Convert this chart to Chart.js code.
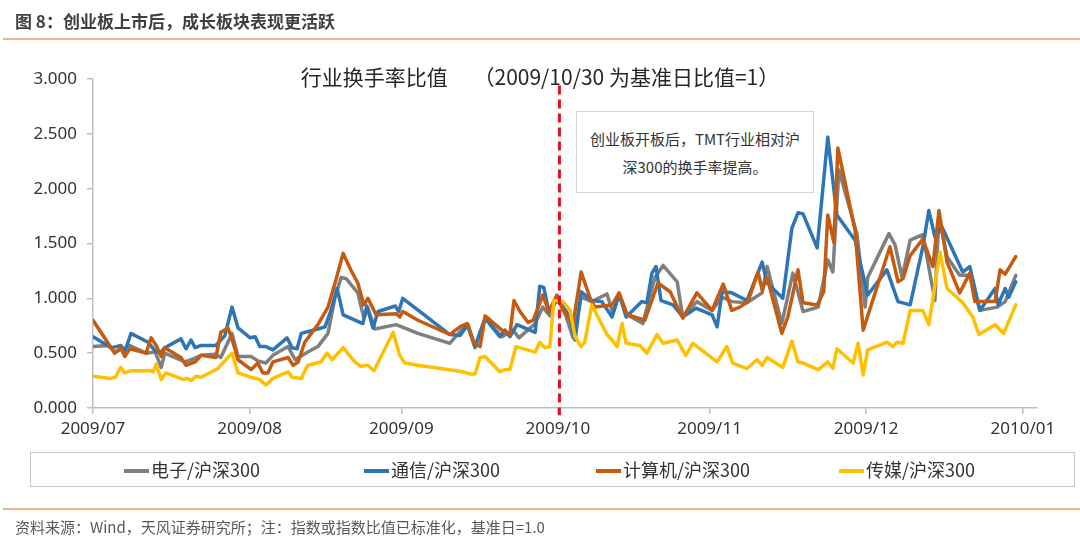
<!doctype html>
<html>
<head>
<meta charset="utf-8">
<title>行业换手率比值</title>
<script src="https://cdn.jsdelivr.net/npm/chart.js@4.4.0/dist/chart.umd.min.js"></script>
<style>
  * { margin: 0; padding: 0; box-sizing: border-box; }
  body { width: 1080px; height: 545px; background: #fff; position: relative; overflow: hidden;
         font-family: 'Noto Sans', 'Noto Sans CJK SC', sans-serif; color: #333; }
  #c { position: absolute; left: 0; top: 0; }
  #hdr { position: absolute; left: 15px; top: 8px; font: bold 17px 'Noto Sans CJK SC', sans-serif; color: #404040; }
  .rule { position: absolute; left: 3px; right: 0; height: 2px; background: #f4b183; }
  #title { position: absolute; left: 0; width: 1080px; top: 61px; text-align: center;
           font: 21px 'Noto Sans CJK SC', sans-serif; color: #262626; white-space: pre; }
  #note { position: absolute; left: 576px; top: 111px; width: 238px; height: 82px; background: #fff;
          border: 1.5px solid #d4d4d4; text-align: center; font: 15px 'Noto Sans CJK SC', sans-serif;
          color: #333; line-height: 28px; padding-top: 13px; }
  #legend { position: absolute; left: 30px; top: 452px; width: 1045px; height: 35px; border: 1.5px solid #c8c8c8; }
  .item { position: absolute; top: 5px; font: 18px 'Noto Sans CJK SC', sans-serif; color: #333; line-height: 22px; }
  .item i { display: inline-block; width: 25px; height: 4px; vertical-align: middle; margin-right: 2px; margin-top: -3px; }
  #src { position: absolute; left: 15px; top: 516px; font: 15px 'Noto Sans CJK SC', sans-serif; color: #595959; }
</style>
</head>
<body>
<canvas id="c" width="1080" height="545"></canvas>
<div id="hdr">图 8：创业板上市后，成长板块表现更活跃</div>
<div class="rule" style="top:38px"></div>
<div id="title">行业换手率比值　 （2009/10/30 为基准日比值=1）</div>
<div id="note">创业板开板后，TMT行业相对沪<br>深300的换手率提高。</div>
<div id="legend"></div>
<div class="rule" style="top:508px"></div>
<div id="src">资料来源：Wind，天风证券研究所；注：指数或指数比值已标准化，基准日=1.0</div>
<script>
// x = days from 2009/07/01, y = turnover ratio
const monthTicks = [0, 31, 61, 92, 122, 153, 184];
const monthLabels = ['2009/07', '2009/08', '2009/09', '2009/10', '2009/11', '2009/12', '2010/01'];
const seriesNames = ['电子/沪深300', '通信/沪深300', '计算机/沪深300', '传媒/沪深300'];
const seriesColors = ['#7f7f7f', '#2e75b6', '#c55a11', '#ffc000'];
const baseDay = 92.3;

const dianzi = [[0,0.56],[3.0,0.57],[4.4,0.51],[7.3,0.57],[10.5,0.50],[12.3,0.51],[13.5,0.37],[14.2,0.50],[18.2,0.42],[19.4,0.44],[21.4,0.48],[24.3,0.49],[25.3,0.46],[27.5,0.68],[28.7,0.47],[31.3,0.47],[32.6,0.43],[34.2,0.41],[35.6,0.48],[38.6,0.56],[40.0,0.44],[42.5,0.51],[44.5,0.56],[46.5,0.68],[47.9,1.01],[49.1,1.19],[50.1,1.18],[52.4,1.05],[53.6,0.82],[54.4,0.91],[55.8,0.72],[60.0,0.76],[64.3,0.68],[70.6,0.59],[74.0,0.77],[75.6,0.55],[77.6,0.82],[80.9,0.65],[83.1,0.71],[84.3,0.64],[87.5,0.77],[89.0,0.92],[90.4,0.84],[91.8,1.01],[93.0,0.92],[95.0,0.64],[96.6,1.01],[98.7,0.97],[101.7,1.04],[102.9,0.86],[104.1,1.04],[105.7,0.85],[108.8,0.77],[111.2,1.19],[112.8,1.30],[115.6,1.15],[116.7,0.83],[119.5,0.97],[122.5,0.89],[124.5,1.01],[126.4,0.97],[129.4,0.96],[132.4,1.05],[133.4,1.29],[136.3,0.77],[138.5,1.23],[140.5,0.88],[143.5,0.92],[145.4,1.35],[146.4,1.24],[147.6,2.17],[151.2,1.58],[152.8,0.92],[153.3,1.19],[157.5,1.59],[158.7,1.49],[160.1,1.19],[161.7,1.53],[164.2,1.58],[166.6,0.98],[167.4,1.74],[169.0,1.38],[171.5,1.21],[173.5,1.21],[175.5,0.89],[178.9,0.92],[180.5,0.97],[182.6,1.21]];

const tongxin = [[0,0.65],[3.6,0.55],[4.6,0.56],[5.5,0.57],[6.3,0.51],[7.5,0.68],[10.9,0.60],[12.3,0.52],[13.3,0.50],[14.2,0.55],[17.4,0.63],[18.4,0.54],[19.4,0.62],[20.2,0.55],[21.4,0.57],[24.3,0.57],[26.1,0.66],[27.5,0.92],[28.7,0.73],[31.1,0.64],[32.1,0.65],[33.0,0.56],[34.2,0.56],[35.6,0.53],[38.4,0.64],[39.4,0.55],[40.4,0.54],[41.2,0.68],[44.5,0.72],[45.9,0.74],[47.1,0.89],[48.3,1.09],[49.5,0.85],[53.4,0.77],[54.2,0.93],[55.4,0.73],[56.4,0.88],[59.8,0.93],[60.5,0.88],[61.3,1.00],[70.6,0.67],[72.6,0.66],[74.2,0.76],[75.6,0.56],[77.6,0.82],[80.5,0.65],[81.5,0.71],[82.5,0.65],[83.9,0.76],[87.5,0.69],[88.4,1.11],[89.2,1.10],[90.2,0.88],[91.8,0.98],[93.0,0.92],[94.4,0.83],[95.4,0.62],[96.6,1.06],[98.7,0.98],[100.7,0.97],[102.7,0.83],[104.1,1.04],[105.5,0.83],[108.6,0.97],[109.6,0.96],[110.6,1.23],[111.4,1.29],[112.4,0.98],[114.8,0.94],[116.7,0.83],[119.3,0.91],[122.5,0.85],[123.5,0.74],[124.5,1.06],[126.4,1.05],[129.4,0.98],[132.4,1.33],[133.4,1.14],[136.5,1.00],[138.3,1.64],[139.5,1.78],[140.5,1.77],[143.3,1.46],[145.4,2.47],[147.2,1.76],[150.8,1.53],[153.3,1.03],[157.1,1.26],[159.3,0.97],[161.7,0.94],[164.2,1.47],[165.4,1.80],[166.6,1.56],[168.0,1.65],[172.1,1.24],[173.5,1.29],[175.5,0.89],[178.5,1.09],[179.1,0.94],[180.5,1.09],[181.2,1.01],[182.6,1.15]];

const jisuanji = [[0,0.80],[4.3,0.50],[5.5,0.55],[6.3,0.47],[7.3,0.54],[10.5,0.50],[11.5,0.64],[12.5,0.57],[13.5,0.47],[14.2,0.55],[17.4,0.46],[18.4,0.39],[20.2,0.42],[21.4,0.48],[24.3,0.46],[25.3,0.69],[26.7,0.73],[27.7,0.60],[28.7,0.44],[31.3,0.35],[32.6,0.41],[33.6,0.32],[34.6,0.32],[35.6,0.42],[38.6,0.46],[39.6,0.39],[40.6,0.42],[41.9,0.60],[44.5,0.76],[46.5,0.92],[47.9,1.14],[49.5,1.41],[51.0,1.26],[52.4,1.14],[53.6,0.94],[54.4,1.00],[56.0,0.85],[60.0,0.86],[60.7,0.83],[61.3,0.88],[64.3,0.80],[70.6,0.67],[72.6,0.74],[74.0,0.77],[75.4,0.59],[76.6,0.56],[77.6,0.84],[80.9,0.71],[82.5,0.67],[83.3,0.98],[84.5,0.88],[86.1,0.78],[87.1,0.80],[89.0,1.03],[90.2,0.88],[91.8,1.03],[93.0,0.89],[95.0,0.77],[96.6,1.24],[98.3,1.01],[99.3,0.92],[102.7,0.94],[104.1,1.05],[105.7,0.85],[109.2,0.80],[111.8,1.14],[114.2,1.06],[116.7,0.82],[119.5,1.05],[122.5,0.89],[124.7,1.13],[126.4,0.89],[128.0,0.92],[129.6,0.97],[131.6,1.24],[132.4,1.08],[133.4,1.19],[136.3,0.68],[137.5,0.83],[139.5,1.26],[140.5,0.96],[143.3,0.94],[144.6,1.06],[145.4,1.76],[146.6,1.51],[147.4,2.37],[150.8,1.62],[152.4,0.71],[157.7,1.47],[159.3,1.15],[160.3,1.18],[161.7,1.39],[164.2,1.54],[166.2,1.29],[167.4,1.80],[169.0,1.33],[171.5,1.05],[173.5,1.23],[174.5,0.97],[178.5,0.97],[179.5,1.26],[180.5,1.22],[182.6,1.38]];

const chuanmei = [[0,0.29],[3.4,0.27],[4.4,0.28],[5.5,0.37],[6.3,0.32],[7.5,0.34],[11.3,0.34],[11.9,0.33],[12.5,0.40],[13.5,0.26],[14.4,0.32],[17.8,0.26],[18.6,0.27],[19.4,0.25],[20.4,0.29],[21.4,0.28],[24.7,0.36],[27.5,0.50],[28.7,0.32],[31.3,0.28],[33.0,0.26],[34.2,0.21],[35.6,0.27],[38.6,0.33],[39.4,0.28],[41.2,0.27],[42.5,0.39],[45.1,0.42],[46.3,0.50],[47.3,0.44],[49.5,0.55],[51.8,0.42],[53.0,0.38],[54.4,0.39],[55.6,0.34],[59.4,0.69],[60.7,0.48],[61.7,0.41],[64.3,0.39],[73.2,0.33],[74.6,0.31],[75.6,0.31],[76.6,0.46],[77.6,0.47],[80.5,0.33],[81.5,0.35],[82.5,0.35],[83.7,0.56],[87.5,0.51],[88.4,0.60],[89.4,0.55],[90.4,0.56],[91.2,0.98],[93.0,0.97],[94.4,0.89],[95.4,0.65],[96.6,0.56],[97.3,0.60],[98.7,0.94],[101.7,0.67],[102.7,0.62],[103.7,0.56],[104.7,0.77],[105.5,0.59],[108.2,0.57],[109.6,0.50],[111.6,0.67],[112.8,0.59],[115.6,0.62],[117.3,0.48],[118.7,0.59],[123.5,0.42],[125.4,0.56],[126.6,0.41],[129.4,0.36],[131.4,0.44],[132.4,0.39],[133.4,0.46],[136.5,0.37],[138.3,0.61],[139.5,0.42],[140.5,0.41],[143.5,0.35],[145.4,0.42],[146.4,0.36],[147.2,0.54],[150.4,0.41],[151.4,0.59],[152.4,0.30],[153.3,0.53],[157.1,0.60],[158.3,0.56],[159.1,0.60],[160.3,0.59],[161.7,0.89],[164.2,0.89],[165.4,0.76],[167.6,1.42],[169.0,1.09],[172.1,0.96],[174.1,0.83],[175.3,0.67],[178.5,0.76],[180.2,0.68],[182.6,0.94]];

const allSeries = [dianzi, tongxin, jisuanji, chuanmei];

// legend (html)
const legendX = [93, 333, 565, 808];
const legend = document.getElementById('legend');
seriesNames.forEach(function (name, i) {
  const d = document.createElement('div');
  d.className = 'item';
  d.style.left = legendX[i] + 'px';
  d.innerHTML = '<i style="background:' + seriesColors[i] + '"></i>' + name;
  legend.appendChild(d);
});

// red dashed line at the ChiNext opening
const baseLine = {
  id: 'baseLine',
  afterDatasetsDraw(chart) {
    const ctx = chart.ctx;
    const x = chart.scales.x.getPixelForValue(baseDay);
    ctx.save();
    ctx.strokeStyle = '#e8101a';
    ctx.lineWidth = 3;
    ctx.setLineDash([9, 5]);
    ctx.beginPath();
    ctx.moveTo(x, chart.scales.y.getPixelForValue(2.94));
    ctx.lineTo(x, chart.scales.y.getPixelForValue(-0.065));
    ctx.stroke();
    ctx.restore();
  }
};

Chart.defaults.font.family = "'Noto Sans', 'Noto Sans CJK SC', sans-serif";

const ctx = document.getElementById('c').getContext('2d');
const myChart = new Chart(ctx, {
  type: 'line',
  data: {
    datasets: allSeries.map(function (s, i) {
      return {
        label: seriesNames[i],
        data: s.map(p => ({ x: p[0], y: p[1] })),
        borderColor: seriesColors[i],
        backgroundColor: seriesColors[i],
        borderWidth: 3.5,
        pointRadius: 0,
        tension: 0,
        borderJoinStyle: 'round',
        borderCapStyle: 'round',
        order: 4 - i
      };
    })
  },
  options: {
    responsive: false,
    animation: false,
    devicePixelRatio: 1,
    layout: { padding: { top: 79, right: 43, bottom: 100, left: 0 } },
    plugins: { legend: { display: false }, tooltip: { enabled: false } },
    scales: {
      x: {
        type: 'linear',
        min: 0,
        max: 186.8,
        afterBuildTicks: s => { s.ticks = monthTicks.map(v => ({ value: v })); },
        afterFit: s => { s.height = 37; },
        ticks: {
          autoSkip: false, maxRotation: 0, padding: 5, color: '#333', font: { size: 17 },
          callback: v => monthLabels[monthTicks.indexOf(v)]
        },
        grid: { drawOnChartArea: false, drawTicks: true, tickLength: 6, color: '#bfbfbf', lineWidth: 1.5 },
        border: { color: '#bfbfbf', width: 1.5 }
      },
      y: {
        min: 0,
        max: 3,
        afterFit: s => { s.width = 93; },
        ticks: { stepSize: 0.5, padding: 10, color: '#333', font: { size: 17 }, callback: v => v.toFixed(3) },
        grid: { drawOnChartArea: false, drawTicks: true, tickLength: 6, color: '#bfbfbf', lineWidth: 1.5 },
        border: { color: '#bfbfbf', width: 1.5 }
      }
    }
  },
  plugins: [baseLine]
});
</script>
</body>
</html>
